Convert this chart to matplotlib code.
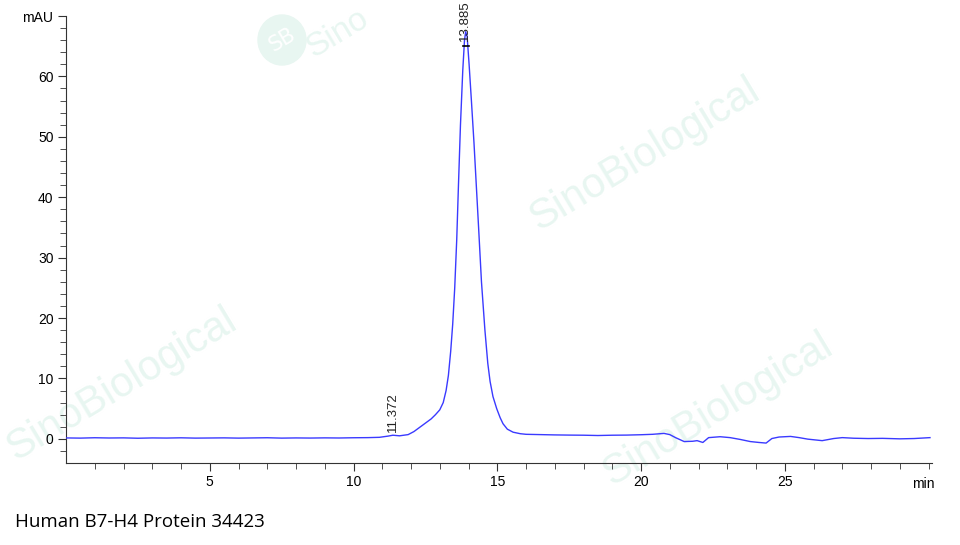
import matplotlib.pyplot as plt
from matplotlib.patches import Ellipse

# chromatogram trace
time_min = [0.0, 0.5, 1.0, 1.5, 2.0, 2.5, 3.0, 3.5, 4.0, 4.5, 5.0, 5.5, 6.0, 6.5,
            7.0, 7.5, 8.0, 8.5, 9.0, 9.5, 10.0, 10.5, 10.9, 11.2, 11.37, 11.6,
            11.9, 12.1, 12.3, 12.5, 12.7, 12.85, 13.0, 13.12, 13.22, 13.3, 13.38,
            13.45, 13.52, 13.59, 13.65, 13.72, 13.8, 13.86, 13.9, 13.95, 14.02,
            14.1, 14.19, 14.27, 14.35, 14.45, 14.57, 14.67, 14.75, 14.85, 14.98,
            15.1, 15.2, 15.35, 15.55, 15.8, 16.0, 16.5, 17.0, 17.5, 18.0, 18.5,
            19.0, 19.5, 20.0, 20.4, 20.8, 21.0, 21.2, 21.5, 21.8, 21.95, 22.15,
            22.35, 22.75, 23.1, 23.45, 23.8, 24.1, 24.35, 24.55, 24.8, 25.2, 25.5,
            25.8, 26.3, 26.7, 27.0, 27.4, 27.9, 28.4, 29.0, 29.5, 30.05]
mau = [0.15, 0.12, 0.18, 0.14, 0.16, 0.10, 0.15, 0.13, 0.17, 0.12, 0.14, 0.16,
       0.12, 0.15, 0.18, 0.12, 0.15, 0.13, 0.16, 0.14, 0.18, 0.2, 0.25, 0.45,
       0.6, 0.5, 0.7, 1.2, 1.9, 2.6, 3.3, 4.0, 4.8, 6.0, 8.0, 10.5, 14.5, 19.0,
       25.0, 33.0, 42.0, 52.0, 61.0, 66.0, 67.4, 66.7, 62.0, 56.0, 49.0, 42.0,
       35.0, 26.0, 18.0, 12.5, 9.5, 7.0, 5.0, 3.5, 2.5, 1.6, 1.1, 0.85, 0.75,
       0.7, 0.65, 0.62, 0.6, 0.55, 0.6, 0.62, 0.68, 0.75, 0.9, 0.7, 0.2, -0.45,
       -0.4, -0.3, -0.6, 0.2, 0.35, 0.2, -0.1, -0.45, -0.6, -0.7, 0.05, 0.3,
       0.4, 0.2, -0.05, -0.3, 0.05, 0.2, 0.1, 0.05, 0.08, 0.0, 0.05, 0.2]

peak_times = [11.372, 13.885]
peak_label_base = [1.1, 65.8]
peak_labels = ["11.372", "13.885"]

x_ticks = [5, 10, 15, 20, 25]
y_ticks = [0, 10, 20, 30, 40, 50, 60]

fig = plt.figure(figsize=(9.6, 5.45), dpi=100)
ax = fig.add_axes([66/960, 1-463/545, (932-66)/960, (463-16)/545])

# faint watermarks
wm = '#e8f6f1'
for cx, cy in [(645, 155), (122, 385), (718, 410)]:
    ax.text(cx/960, 1-cy/545, "SinoBiological", transform=fig.transFigure,
            rotation=31, color=wm, fontsize=30, ha='center', va='center',
            family='Liberation Sans', zorder=0, clip_on=False)
ax.add_artist(Ellipse((282/960, 1-40/545), 48/960, 50/545, transform=fig.transFigure,
                      color=wm, zorder=0, clip_on=False))
ax.text(282/960, 1-40/545, "SB", transform=fig.transFigure, rotation=31, color='white',
        fontsize=15, ha='center', va='center', zorder=0, clip_on=False)
ax.text(338/960, 1-34/545, "Sino", transform=fig.transFigure, rotation=31, color=wm,
        fontsize=24, ha='center', va='center', family='Liberation Sans', zorder=0,
        clip_on=False)

ax.plot(time_min, mau, color='#3a3aff', lw=1.0, zorder=3)

# peak labels
for t, base, lab in zip(peak_times, peak_label_base, peak_labels):
    ax.text(t, base, lab, rotation=90, ha='center', va='bottom', fontsize=9.5,
            family='Liberation Sans', color='#222222', zorder=4)
ax.plot([13.80, 14.02], [65.0, 65.0], color='black', lw=1.2, zorder=4)

ax.set_xlim(0, 30.12)
ax.set_ylim(-4, 70)
ax.set_xticks(x_ticks)
ax.set_xticks(range(1, 31), minor=True)
ax.set_yticks(y_ticks + [70])
ax.set_yticklabels([str(v) for v in y_ticks] + ["mAU"])
ax.set_yticks(range(-2, 70, 2), minor=True)
for s in ['top', 'right']:
    ax.spines[s].set_visible(False)
for s in ['left', 'bottom']:
    ax.spines[s].set_color('#333333')
ax.tick_params(which='major', length=6, color='#333333', labelsize=10, pad=3)
ax.tick_params(which='minor', length=4, color='#333333')
for lbl in ax.get_xticklabels() + ax.get_yticklabels():
    lbl.set_family('Liberation Sans')
ax.text(29.8, -6.3, "min", ha='center', va='top', fontsize=10,
        family='Liberation Sans')

fig.text(15/960, 1-522/545, "Human B7-H4 Protein 34423", fontsize=13.5,
         family='Open Sans', va='center', ha='left')

fig.savefig('out.png', dpi=100)
